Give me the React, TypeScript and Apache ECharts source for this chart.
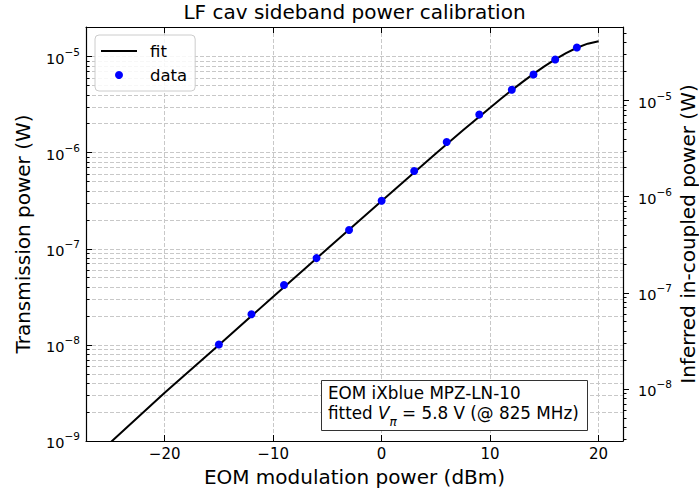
import React, { useEffect, useRef } from 'react';
import * as echarts from 'echarts';

// measured data points (EOM modulation power in dBm, transmission power in W)
const dataDbm = [-15, -12, -9, -6, -3, 0, 3, 6, 9, 12, 14, 16, 18];
const dataPower = [1.01e-8, 2.08e-8, 4.2e-8, 8.0e-8, 1.57e-7, 3.16e-7, 6.44e-7, 1.29e-6, 2.49e-6, 4.51e-6, 6.5e-6, 9.33e-6, 1.24e-5];

// fit curve
const fitDbm = [-25, -20, -15, -10, -5, 0, 2.5, 5, 7.5, 9, 10, 11, 12, 13, 14, 15, 16, 17, 18, 19, 20];
const fitPower = [0.965e-9, 3.17e-9, 1.0e-8, 3.17e-8, 9.99e-8, 3.15e-7, 5.56e-7, 9.79e-7, 1.71e-6, 2.37e-6, 2.94e-6, 3.64e-6, 4.47e-6, 5.45e-6, 6.6e-6, 7.9e-6, 9.34e-6, 1.087e-5, 1.235e-5, 1.362e-5, 1.446e-5];

// axes
const xTicks = [-20, -10, 0, 10, 20];
const xRange = [-27.25, 22.25];
const leftTicks = [1e-9, 1e-8, 1e-7, 1e-6, 1e-5];
const leftRange = [1e-9, 2.03e-5];
const rightTicks = [1e-8, 1e-7, 1e-6, 1e-5];
const couplingFactor = 2.87; // in-coupled / transmitted
const rightRange = [leftRange[0] * couplingFactor, leftRange[1] * couplingFactor];

const titleText = 'LF cav sideband power calibration';
const xName = 'EOM modulation power (dBm)';
const yLeftName = 'Transmission power (W)';
const yRightName = 'Inferred in-coupled power (W)';
const fitName = 'fit';
const dataName = 'data';
const noteLine1 = 'EOM iXblue MPZ-LN-10';

const FONT = 'DejaVu Sans';
const GRID_COLOR = '#c8c8c8';
const BIG = 20;
const NOTE = 16.8;

const minus = (v: number) => (v < 0 ? '\u2212' + Math.abs(v) : String(v));
const powLabel = (v: number) => {
  const e = Math.round(Math.log10(v));
  return '{b|10}{s|' + minus(e) + '}';
};
const powRich = {
  b: { fontSize: 14.5, fontFamily: FONT, color: '#000', lineHeight: 16, padding: [4, 0, 0, 0] },
  s: { fontSize: 10.5, fontFamily: FONT, color: '#000', lineHeight: 12, padding: [0, 0, 10, 0] },
};

export default function App() {
  const ref = useRef<HTMLDivElement>(null);
  useEffect(() => {
    if (!ref.current) return;
    const chart = echarts.init(ref.current, undefined, { renderer: 'svg' });
    const gridLine = { show: true, lineStyle: { color: GRID_COLOR, type: [4, 2], width: 1 } };
    const axisLineStyle = { show: true, onZero: false, lineStyle: { color: '#000', width: 1.2 } };
    chart.setOption({
      animation: false,
      textStyle: { fontFamily: FONT },
      grid: { left: 86, right: 76, top: 27, bottom: 53, containLabel: false, outerBoundsMode: 'none' },
      legend: {
        left: 95,
        top: 35,
        orient: 'vertical',
        data: [
          { name: fitName, icon: 'path://M0,0H36V2H0Z' },
          { name: dataName, icon: 'circle' },
        ],
        itemWidth: 36,
        itemHeight: 8,
        itemGap: 6,
        padding: [7, 8, 7, 6],
        backgroundColor: 'rgba(255,255,255,0.85)',
        borderColor: '#cccccc',
        borderWidth: 1,
        borderRadius: 4,
        textStyle: { fontSize: 16.5, fontFamily: FONT, color: '#000', lineHeight: 18, padding: [0, 0, 0, 8] },
      },
      xAxis: [
        {
          type: 'value',
          min: xRange[0],
          max: xRange[1],
          name: xName,
          nameLocation: 'middle',
          nameGap: 26,
          nameMoveOverlap: false,
          nameTextStyle: { fontSize: BIG, fontFamily: FONT, color: '#000' },
          axisLine: axisLineStyle,
          axisTick: { show: true, inside: true, length: 6, customValues: xTicks, lineStyle: { color: '#000' } },
          axisLabel: {
            customValues: xTicks,
            formatter: (v: number) => minus(v),
            fontSize: 15,
            color: '#000',
            margin: 5,
          },
          splitLine: gridLine,
        },
        {
          type: 'value',
          position: 'top',
          min: xRange[0],
          max: xRange[1],
          axisLine: axisLineStyle,
          axisTick: { show: true, inside: true, length: 6, customValues: xTicks, lineStyle: { color: '#000' } },
          axisLabel: { show: false },
          splitLine: { show: false },
        },
      ],
      yAxis: [
        {
          type: 'log',
          logBase: 10,
          min: leftRange[0],
          max: leftRange[1],
          position: 'left',
          name: yLeftName,
          nameLocation: 'middle',
          nameGap: 53,
          nameMoveOverlap: false,
          nameTextStyle: { fontSize: BIG, fontFamily: FONT, color: '#000' },
          axisLine: axisLineStyle,
          axisTick: { show: true, inside: true, length: 6, customValues: leftTicks, lineStyle: { color: '#000' } },
          minorTick: { show: true, splitNumber: 9, length: 3.5, lineStyle: { color: '#000' } },
          axisLabel: {
            customValues: leftTicks,
            formatter: (v: number) => powLabel(v),
            rich: powRich,
            margin: 6,
          },
          splitLine: gridLine,
          minorSplitLine: gridLine,
        },
        {
          type: 'log',
          logBase: 10,
          min: rightRange[0],
          max: rightRange[1],
          position: 'right',
          name: yRightName,
          nameLocation: 'middle',
          nameGap: 55,
          nameMoveOverlap: false,
          nameTextStyle: { fontSize: BIG, fontFamily: FONT, color: '#000' },
          axisLine: axisLineStyle,
          axisTick: { show: true, inside: false, length: 6, customValues: rightTicks, lineStyle: { color: '#000' } },
          minorTick: { show: true, splitNumber: 9, length: 3.5, lineStyle: { color: '#000' } },
          axisLabel: {
            customValues: rightTicks,
            formatter: (v: number) => powLabel(v),
            rich: powRich,
            margin: 15,
          },
          splitLine: { show: false },
          minorSplitLine: { show: false },
        },
      ],
      series: [
        {
          name: fitName,
          type: 'line',
          xAxisIndex: 0,
          yAxisIndex: 0,
          data: fitDbm.map((x, i) => [x, fitPower[i]]),
          showSymbol: false,
          symbol: 'none',
          clip: true,
          lineStyle: { color: '#000', width: 2 },
          itemStyle: { color: '#000' },
          z: 3,
        },
        {
          name: dataName,
          type: 'scatter',
          xAxisIndex: 0,
          yAxisIndex: 0,
          data: dataDbm.map((x, i) => [x, dataPower[i]]),
          symbol: 'circle',
          symbolSize: 8,
          itemStyle: { color: '#0000ff', opacity: 1 },
          z: 4,
        },
      ],
      graphic: [
        {
          type: 'text',
          x: 354.5,
          y: 2,
          style: {
            text: titleText,
            font: BIG + 'px "DejaVu Sans"',
            fill: '#000',
            align: 'center',
            textAlign: 'center',
            verticalAlign: 'top',
            textVerticalAlign: 'top',
          },
          z: 10,
        },
        {
          type: 'rect',
          shape: { x: 321.5, y: 380.5, width: 266, height: 50 },
          style: { fill: '#ffffff', stroke: '#333333', lineWidth: 1 },
          z: 10,
        },
        {
          type: 'text',
          x: 328,
          y: 392.7,
          style: {
            text: noteLine1,
            font: NOTE + 'px "DejaVu Sans"',
            fill: '#000',
            verticalAlign: 'middle',
            textVerticalAlign: 'middle',
          },
          z: 11,
        },
        {
          type: 'text',
          x: 328,
          y: 412.7,
          style: {
            text: '{n|fitted }{i|V}{sub|\u03c0}{n| = 5.8 V (@ 825 MHz)}',
            fill: '#000',
            verticalAlign: 'middle',
            textVerticalAlign: 'middle',
            rich: {
              n: { fontSize: NOTE, fontFamily: FONT, fill: '#000', color: '#000', lineHeight: 18 },
              i: { fontSize: NOTE, fontFamily: FONT, fontStyle: 'italic', fill: '#000', color: '#000', lineHeight: 18 },
              sub: { fontSize: 12, fontFamily: FONT, fontStyle: 'italic', fill: '#000', color: '#000', lineHeight: 12, padding: [18, 0, 0, 0] },
            },
          },
          z: 11,
        },
      ],
    });
    return () => chart.dispose();
  }, []);
  return <div ref={ref} style={{ position: 'absolute', left: 0, top: 0, width: 699, height: 494, background: '#fff' }} />;
}
